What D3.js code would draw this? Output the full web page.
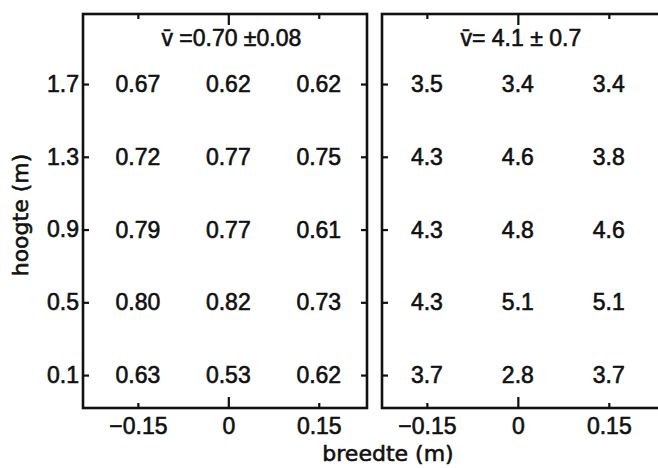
<!DOCTYPE html>
<html>
<head>
<meta charset="utf-8">
<script src="https://cdn.jsdelivr.net/npm/d3@7/dist/d3.min.js"></script>
<style>
  html, body { margin: 0; padding: 0; background: #fff; }
  svg { display: block; }
</style>
</head>
<body>
<svg id="chart" width="658" height="468"></svg>
<script>
// ---- data ----
const widths = [-0.15, 0, 0.15];           // breedte (m)
const heights = [1.7, 1.3, 0.9, 0.5, 0.1]; // hoogte (m), top to bottom
const xTickLabels = ["\u22120.15", "0", "0.15"];
const yTickLabels = ["1.7", "1.3", "0.9", "0.5", "0.1"];
// left panel values, one row per height (top to bottom)
const valuesLeft = [
  ["0.67", "0.62", "0.62"],
  ["0.72", "0.77", "0.75"],
  ["0.79", "0.77", "0.61"],
  ["0.80", "0.82", "0.73"],
  ["0.63", "0.53", "0.62"]
];
// right panel values
const valuesRight = [
  ["3.5", "3.4", "3.4"],
  ["4.3", "4.6", "3.8"],
  ["4.3", "4.8", "4.6"],
  ["4.3", "5.1", "5.1"],
  ["3.7", "2.8", "3.7"]
];
const titleLeft = "v\u0304 =0.70 \u00B10.08";
const titleRight = "v\u0304= 4.1 \u00B1 0.7";
const xLabel = "breedte (m)";
const yLabel = "hoogte (m)";

// ---- layout ----
const svg = d3.select("#chart");
const numFont = "'Liberation Sans', Arial, sans-serif";
const labFont = "'DejaVu Sans', sans-serif";
const ink = "#111";

const y = d3.scaleLinear().domain([-0.081, 2.085]).range([408, 14]);

const panels = [
  { x: d3.scaleLinear().domain([-0.241, 0.230]).range([83, 367]), values: valuesLeft, title: titleLeft, yLabels: true },
  { x: d3.scaleLinear().domain([-0.224, 0.241]).range([382, 664]), values: valuesRight, title: titleRight, yLabels: false }
];

const fmtX = d => xTickLabels[widths.indexOf(d)];
const fmtY = d => yTickLabels[heights.indexOf(d)];

function heavy(sel, size, fam) {
  sel.attr("fill", ink).attr("stroke", ink).attr("stroke-width", 0.6)
    .style("font-family", fam || numFont).style("font-size", size + "px");
}

panels.forEach(p => {
  const [xa, xb] = p.x.range();
  const [ya, yb] = y.range(); // ya bottom, yb top
  const g = svg.append("g");

  // frame
  g.append("rect")
    .attr("x", xa).attr("y", yb)
    .attr("width", xb - xa).attr("height", ya - yb)
    .attr("fill", "none").attr("stroke", ink).attr("stroke-width", 2.6);

  // bottom axis
  const gb = g.append("g").attr("transform", `translate(0,${ya})`)
    .call(d3.axisBottom(p.x).tickValues(widths).tickSize(-5).tickPadding(10).tickFormat(fmtX));
  gb.selectAll(".tick line").filter(d => d === 0).attr("y2", -11);

  // top axis
  const gt = g.append("g").attr("transform", `translate(0,${yb})`)
    .call(d3.axisTop(p.x).tickValues(widths).tickSize(-5).tickFormat(""));
  gt.selectAll(".tick line").filter(d => d === 0).attr("y2", 11);

  // left axis
  const gl = g.append("g").attr("transform", `translate(${xa},0)`)
    .call(d3.axisLeft(y).tickValues(heights).tickSize(-6).tickPadding(4)
      .tickFormat(p.yLabels ? fmtY : ""));

  // right axis
  const gr = g.append("g").attr("transform", `translate(${xb},0)`)
    .call(d3.axisRight(y).tickValues(heights).tickSize(-6).tickFormat(""));

  [gb, gt, gl, gr].forEach(a => {
    a.select(".domain").remove();
    a.selectAll(".tick line").attr("stroke", ink).attr("stroke-width", 2.2);
    heavy(a.selectAll(".tick text"), 23);
  });

  // cell values
  heights.forEach((h, i) => {
    widths.forEach((w, j) => {
      g.append("text")
        .attr("x", p.x(w)).attr("y", y(h))
        .attr("dy", "0.35em")
        .attr("text-anchor", "middle")
        .call(heavy, 23)
        .text(p.values[i][j]);
    });
  });

  // title
  g.append("text")
    .attr("x", p.x(0) + 3).attr("y", 38)
    .attr("dy", "0.35em")
    .attr("text-anchor", "middle")
    .call(heavy, 23)
    .text(p.title);
});

// axis labels
svg.append("text")
  .attr("x", 388).attr("y", 461)
  .attr("text-anchor", "middle")
  .call(heavy, 22, labFont)
  .text(xLabel);

svg.append("text")
  .attr("transform", "translate(28,215) rotate(-90)")
  .attr("text-anchor", "middle")
  .call(heavy, 22, labFont)
  .text(yLabel);
</script>
</body>
</html>
